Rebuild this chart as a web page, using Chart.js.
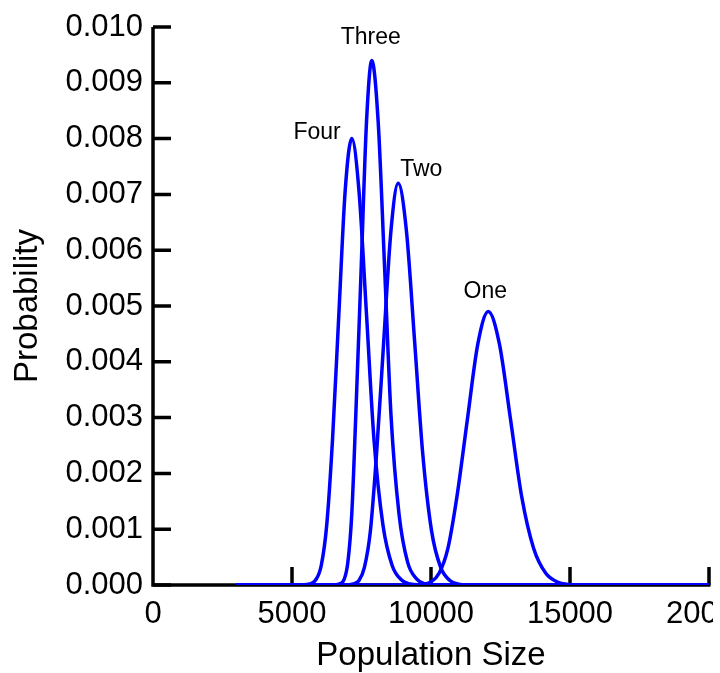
<!DOCTYPE html>
<html>
<head>
<meta charset="utf-8">
<script src="https://cdn.jsdelivr.net/npm/chart.js@4.4.1/dist/chart.umd.min.js"></script>
<style>
  html, body { margin: 0; padding: 0; background: #fff; }
  canvas { display: block; }
</style>
</head>
<body>
<canvas id="myChart" width="713" height="673"></canvas>
<script>
// values (population size vs probability)
const fourX = [3000, 5420, 5635, 5850, 6052, 6250, 6457, 6685, 6912, 7150, 7410, 7680, 7950, 8270, 8603, 8940, 9240, 9540, 20000];
const fourY = [0, 0.000003, 0.000018, 0.000089, 0.00035, 0.00108, 0.0026, 0.00485, 0.00706, 0.0080, 0.00706, 0.00485, 0.0026, 0.00108, 0.00035, 0.000089, 0.000018, 0.000003, 0];

const threeX = [3000, 6560, 6720, 6880, 7010, 7150, 7295, 7490, 7680, 7870, 8100, 8330, 8560, 8850, 9158, 9490, 9760, 10030, 20000];
const threeY = [0, 0.000003, 0.000021, 0.000104, 0.00041, 0.00127, 0.00305, 0.0057, 0.0083, 0.0094, 0.0083, 0.0057, 0.00305, 0.00127, 0.00041, 0.000104, 0.000021, 0.000003, 0];

const twoX = [3000, 6940, 7175, 7410, 7607, 7820, 8040, 8300, 8560, 8820, 9115, 9410, 9705, 10020, 10345, 10680, 10990, 11300, 20000];
const twoY = [0, 0.000002, 0.000016, 0.00008, 0.00032, 0.00097, 0.00234, 0.00437, 0.00635, 0.0072, 0.00635, 0.00437, 0.00234, 0.00097, 0.00032, 0.00008, 0.000016, 0.000002, 0];

const oneX = [3000, 9340, 9680, 9990, 10297, 10610, 10935, 11310, 11685, 12060, 12460, 12860, 13260, 13690, 14123, 14550, 14965, 15380, 20000];
const oneY = [0, 0.000002, 0.000011, 0.000054, 0.000215, 0.00066, 0.00159, 0.00297, 0.00432, 0.0049, 0.00432, 0.00297, 0.00159, 0.00066, 0.000215, 0.000054, 0.000011, 0.000002, 0];

const seriesNames = ['Four', 'Three', 'Two', 'One'];
const xTicks = [0, 5000, 10000, 15000, 20000];
const yTicks = [0, 0.001, 0.002, 0.003, 0.004, 0.005, 0.006, 0.007, 0.008, 0.009, 0.010];

const fontFam = '"Liberation Sans", Arial, Helvetica, sans-serif';
const blue = '#0000ff';

// where each curve label sits relative to its peak (px)
const labelPos = {
  Four:  { dx: -11, dy: -6,  align: 'right' },
  Three: { dx: -1,  dy: -23, align: 'center' },
  Two:   { dx: 2,   dy: -14, align: 'left' },
  One:   { dx: -3,  dy: -20, align: 'center' }
};

function pts(xs, ys) {
  return xs.map((x, i) => ({ x: x, y: ys[i] }));
}

const allX = [fourX, threeX, twoX, oneX];
const allY = [fourY, threeY, twoY, oneY];

const datasets = seriesNames.map((name, i) => ({
  label: name,
  data: pts(allX[i], allY[i]),
  borderColor: blue,
  borderWidth: 3.5,
  pointRadius: 0,
  fill: false,
  cubicInterpolationMode: 'monotone'
}));

// axes drawn by hand so the tick marks point inward
const axesPlugin = {
  id: 'axes',
  beforeDatasetsDraw(chart) {
    const ctx = chart.ctx;
    const x = chart.scales.x, y = chart.scales.y;
    const x0 = x.getPixelForValue(xTicks[0]);
    const x1 = x.getPixelForValue(xTicks[xTicks.length - 1]);
    const y0 = y.getPixelForValue(yTicks[0]);
    const y1 = y.getPixelForValue(yTicks[yTicks.length - 1]);
    ctx.save();
    ctx.strokeStyle = '#000';
    ctx.lineWidth = 3.5;
    ctx.beginPath();
    ctx.moveTo(x0, y1);
    ctx.lineTo(x0, y0);
    ctx.lineTo(x1 + 1.5, y0);
    ctx.stroke();
    ctx.beginPath();
    yTicks.forEach(v => {
      const py = y.getPixelForValue(v);
      ctx.moveTo(x0, py);
      ctx.lineTo(x0 + 18, py);
    });
    xTicks.slice(1).forEach(v => {
      const px = x.getPixelForValue(v);
      ctx.moveTo(px, y0);
      ctx.lineTo(px, y0 - 18);
    });
    ctx.stroke();
    ctx.restore();
  },
  afterDraw(chart) {
    const ctx = chart.ctx;
    const area = chart.chartArea;
    const x = chart.scales.x, y = chart.scales.y;
    ctx.save();
    ctx.fillStyle = '#000';
    ctx.textBaseline = 'middle';

    // axis titles
    ctx.font = '33px ' + fontFam;
    ctx.textAlign = 'center';
    ctx.fillText('Population Size', (area.left + area.right) / 2, area.bottom + 71);
    ctx.save();
    ctx.translate(28, (area.top + area.bottom) / 2);
    ctx.rotate(-Math.PI / 2);
    ctx.fillText('Probability', 0, 0);
    ctx.restore();

    // curve labels at each peak
    ctx.font = '23px ' + fontFam;
    seriesNames.forEach((name, i) => {
      const ys = allY[i];
      let k = 0;
      ys.forEach((v, j) => { if (v > ys[k]) k = j; });
      const px = x.getPixelForValue(allX[i][k]);
      const py = y.getPixelForValue(ys[k]);
      const p = labelPos[name];
      ctx.textAlign = p.align;
      ctx.fillText(name, px + p.dx, py + p.dy);
    });
    ctx.restore();
  }
};

let myChart = document.getElementById('myChart').getContext('2d');

let chart = new Chart(myChart, {
  type: 'line',
  data: { datasets: datasets },
  options: {
    responsive: false,
    animation: false,
    layout: { padding: { top: 27, right: 4, left: 0, bottom: 0 } },
    plugins: {
      legend: { display: false },
      tooltip: { enabled: false }
    },
    scales: {
      x: {
        type: 'linear',
        min: 0,
        max: 20000,
        afterBuildTicks(s) { s.ticks = xTicks.map(v => ({ value: v })); },
        afterFit(s) { s.height = 88; s.paddingLeft = 0; s.paddingRight = 0; },
        grid: { display: false, drawTicks: false },
        border: { display: false },
        ticks: {
          color: '#000',
          padding: 11,
          maxRotation: 0,
          autoSkip: false,
          font: { family: fontFam, size: 31 },
          callback: v => String(v)
        }
      },
      y: {
        type: 'linear',
        min: 0,
        max: 0.010,
        afterBuildTicks(s) { s.ticks = yTicks.map(v => ({ value: v })); },
        afterFit(s) { s.width = 153; s.paddingTop = 0; s.paddingBottom = 0; },
        grid: { display: false, drawTicks: false },
        border: { display: false },
        ticks: {
          color: '#000',
          padding: 10,
          autoSkip: false,
          font: { family: fontFam, size: 31 },
          callback: v => v.toFixed(3)
        }
      }
    }
  },
  plugins: [axesPlugin]
});
</script>
</body>
</html>
